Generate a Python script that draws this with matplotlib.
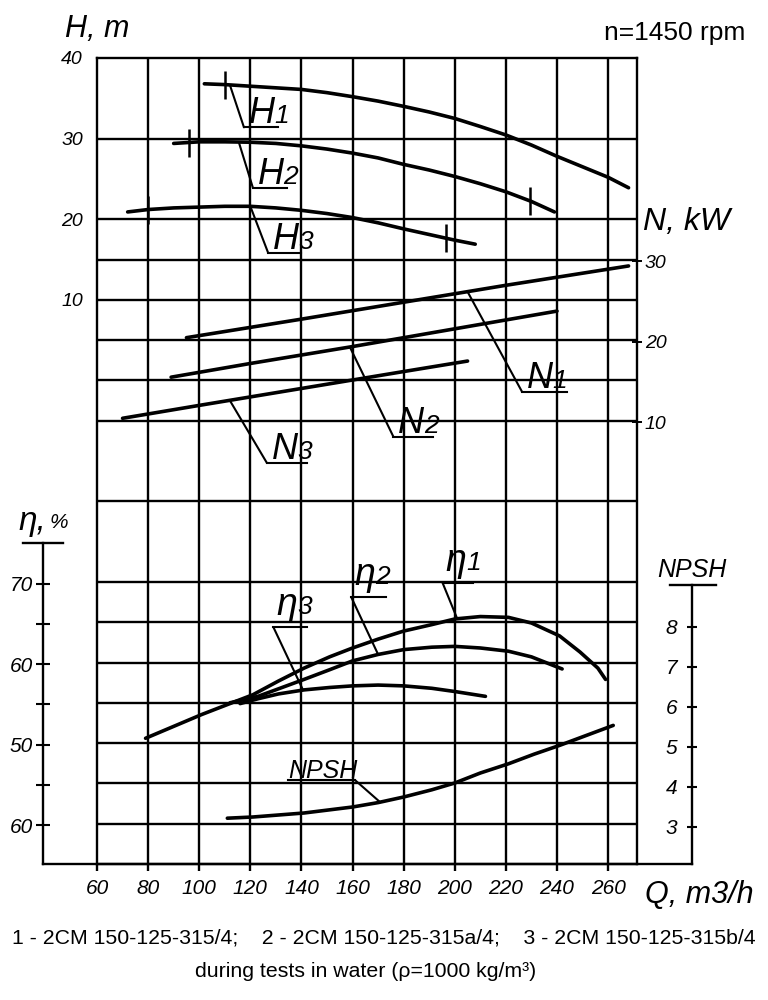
import numpy as np
import matplotlib.pyplot as plt
from matplotlib.transforms import blended_transform_factory as blend

plt.rcParams['font.family'] = ['Liberation Sans', 'DejaVu Sans']

# ---- values ----
# head H, m
q_h1 = [102, 110, 120, 130, 140, 150, 160, 170, 180, 190, 200, 210, 220, 230, 240, 250, 260, 268]
h1 = [36.8, 36.7, 36.5, 36.3, 36.1, 35.7, 35.2, 34.65, 34.0, 33.3, 32.5, 31.5, 30.45, 29.2,
      27.8, 26.5, 25.2, 23.9]
q_h2 = [90, 100, 110, 120, 130, 140, 150, 160, 170, 180, 190, 200, 210, 220, 230, 239]
h2 = [29.4, 29.6, 29.6, 29.55, 29.4, 29.1, 28.7, 28.2, 27.6, 26.8, 26.1, 25.3, 24.4, 23.4,
      22.2, 20.9]
q_h3 = [72, 80, 90, 100, 110, 120, 130, 140, 150, 160, 170, 180, 190, 200, 208]
h3 = [20.9, 21.2, 21.4, 21.5, 21.6, 21.6, 21.4, 21.1, 20.7, 20.2, 19.55, 18.8, 18.1, 17.4, 16.9]
# working-range marks on the head curves
mark_q = [110, 96, 229.6, 80, 196.5]
mark_h = [36.7, 29.5, 22.2, 21.2, 17.7]

# power N, kW
q_n1 = [95, 140, 180, 220, 268]
n1 = [20.5, 22.8, 24.9, 27.0, 29.4]
q_n2 = [89, 120, 160, 200, 240]
n2 = [15.6, 17.3, 19.4, 21.6, 23.8]
q_n3 = [70, 100, 140, 180, 205]
n3 = [10.5, 12.1, 14.2, 16.3, 17.6]

# efficiency, %
q_e1 = [79, 101, 112, 121, 131, 141, 151, 160, 170, 180, 191, 200, 210, 221, 230, 241, 249, 256, 259]
eta1 = [50.8, 53.75, 55.1, 56.2, 57.9, 59.5, 60.9, 62.0, 63.1, 64.1, 64.9, 65.6, 65.9, 65.8,
        65.1, 63.5, 61.5, 59.5, 58.1]
q_e2 = [112, 123, 141, 151, 160, 170, 180, 191, 200, 210, 221, 230, 242]
eta2 = [55.2, 56.0, 58.1, 59.3, 60.4, 61.2, 61.8, 62.1, 62.2, 62.0, 61.6, 60.9, 59.4]
q_e3 = [116, 123, 131, 141, 151, 160, 170, 180, 191, 200, 212]
eta3 = [55.1, 55.7, 56.3, 56.8, 57.1, 57.3, 57.4, 57.3, 57.0, 56.6, 56.0]

# NPSH, m
q_np = [111, 121, 141, 160, 170, 180, 191, 200, 210, 221, 231, 241, 262]
npsh = [3.22, 3.25, 3.35, 3.5, 3.61, 3.75, 3.93, 4.1, 4.35, 4.58, 4.82, 5.04, 5.54]

q_ticks = list(range(60, 261, 20))
h_ticks = [10, 20, 30, 40]
n_ticks = [10, 20, 30]
eta_ticks = [40, 50, 60, 70]
eta_labels = ['60', '50', '60', '70']   # as printed on the chart
npsh_ticks = [3, 4, 5, 6, 7, 8]

grid_q = list(range(80, 261, 20))
grid_h = [30, 20, 15, 10, 5, 0, -5, -15, -25, -30, -35, -40, -45, -50, -55]

LW = 2.6
GLW = 1.7

fig = plt.figure(figsize=(7.68, 10), dpi=100)
ax = fig.add_axes([97 / 768, 136 / 1000, 540 / 768, 806 / 1000])
ax.set_xlim(60, 271.3)
ax.set_ylim(-60, 40)

ax_n = ax.twinx()
ax_n.set_ylim(-60 + 15.2, 40 + 15.2)
ax_e = ax.twinx()
ax_e.set_ylim(-60 + 95.2, 40 + 95.2)
ax_p = ax.twinx()
ax_p.set_ylim(2.075, 22.225)

for a in (ax, ax_n, ax_e, ax_p):
    for s in a.spines.values():
        s.set_visible(False)

for s in ('left', 'top', 'right', 'bottom'):
    ax.spines[s].set_visible(True)
    ax.spines[s].set_linewidth(GLW)

# grid (hand drawn look: some rows missing)
ax.vlines(grid_q, -60, 40, color='k', lw=GLW)
ax.hlines(grid_h, 60, 271.3, color='k', lw=GLW)

# long baseline between the two side scales
ax.plot([-0.1, 1.102], [0, 0], transform=ax.transAxes, clip_on=False,
        color='k', lw=GLW)

# main axes ticks
ax.set_xticks(q_ticks, [str(v) for v in q_ticks], fontsize=15, fontstyle='italic')
ax.tick_params(axis='x', direction='out', length=5, width=GLW, pad=6)
ax.set_yticks(h_ticks, [str(v) for v in h_ticks], fontsize=14, fontstyle='italic')
ax.tick_params(axis='y', length=0, pad=10)

# N scale on right border
ax_n.yaxis.tick_right()
ax_n.set_yticks(n_ticks, [str(v) for v in n_ticks], fontsize=14, fontstyle='italic')
ax_n.tick_params(axis='y', direction='inout', length=7, width=1.4, pad=2)

# efficiency scale on the far left
ax_e.yaxis.tick_left()
ax_e.spines['left'].set_visible(True)
ax_e.spines['left'].set_position(('axes', -0.1))
ax_e.spines['left'].set_bounds(35.2, 75)
ax_e.spines['left'].set_linewidth(GLW)
ax_e.set_yticks(eta_ticks, eta_labels, fontsize=15, fontstyle='italic')
ax_e.set_yticks([45, 55, 65], minor=True)
ax_e.tick_params(axis='y', which='both', direction='inout', length=10, width=1.5, pad=2)

# NPSH scale on the far right
ax_p.yaxis.tick_left()
ax_p.spines['left'].set_visible(True)
ax_p.spines['left'].set_position(('axes', 1.102))
ax_p.spines['left'].set_bounds(2.075, 9.05)
ax_p.spines['left'].set_linewidth(GLW)
ax_p.set_yticks(npsh_ticks, [str(v) for v in npsh_ticks], fontsize=15, fontstyle='italic')
ax_p.tick_params(axis='y', direction='inout', length=7, width=1.5, pad=7)

# T bars on top of the side scales
ax.plot([(23 - 97) / 540, (63 - 97) / 540], [75, 75],
        transform=blend(ax.transAxes, ax_e.transData), clip_on=False, color='k', lw=GLW)
ax.plot([(670 - 97) / 540, (716 - 97) / 540], [9.05, 9.05],
        transform=blend(ax.transAxes, ax_p.transData), clip_on=False, color='k', lw=GLW)

# curves
kw = dict(color='k', lw=LW, solid_joinstyle='round', solid_capstyle='round')
ax.plot(q_h1, h1, **kw)
ax.plot(q_h2, h2, **kw)
ax.plot(q_h3, h3, **kw)
ax.plot(mark_q, mark_h, ls='none', marker='|', ms=20, mew=1.8, color='k')
ax_n.plot(q_n1, n1, **kw)
ax_n.plot(q_n2, n2, **kw)
ax_n.plot(q_n3, n3, **kw)
ax_e.plot(q_e1, eta1, **kw)
ax_e.plot(q_e2, eta2, **kw)
ax_e.plot(q_e3, eta3, **kw)
ax_p.plot(q_np, npsh, **kw)

# curve labels with leader and underline
# (letter, digit, axes of curve, point on curve, underline left in frame units, underline length)
tags = [
    ('H', '1', ax, (112, 36.65), (117.5, 31.4), 13.5),
    ('H', '2', ax, (115.5, 29.55), (121, 23.9), 13.5),
    ('H', '3', ax, (120, 21.6), (127, 15.8), 13),
    ('N', '1', ax_n, (205, 26.2), (226.3, -1.4), 17.7),
    ('N', '2', ax_n, (159, 19.3), (176, -7.0), 15.5),
    ('N', '3', ax_n, (112, 12.7), (126.5, -10.25), 15.5),
    ('η', '1', ax_e, (201, 65.6), (195.2, -25.1), 11.8),
    ('η', '2', ax_e, (170, 61.2), (159.5, -26.9), 13.5),
    ('η', '3', ax_e, (140.6, 56.8), (129, -30.6), 13.2),
]
for letter, digit, src, pt, ul, ln in tags:
    ax.annotate('', xy=pt, xycoords=src.transData, xytext=ul, textcoords='data',
                arrowprops=dict(arrowstyle='-', lw=1.5, color='k', shrinkA=0, shrinkB=0))
    ax.plot([ul[0], ul[0] + ln], [ul[1], ul[1]], color='k', lw=1.5)
    if letter == 'η':
        ax.annotate(letter, ul, xytext=(2, 8.5), textcoords='offset points',
                    fontsize=27, fontstyle='italic', va='baseline')
        ax.annotate(digit, ul, xytext=(17, 9.5), textcoords='offset points',
                    fontsize=19, fontstyle='italic', va='baseline')
    else:
        ax.annotate(letter, ul, xytext=(3.5, 3), textcoords='offset points',
                    fontsize=26, fontstyle='italic', va='baseline')
        ax.annotate(digit, ul, xytext=(22, 3), textcoords='offset points',
                    fontsize=19, fontstyle='italic', va='baseline')

# NPSH curve label
ax.plot([134.8, 161], [-49.6, -49.6], color='k', lw=1.5)
ax.annotate('', xy=(170.8, 3.62), xycoords=ax_p.transData, xytext=(161, -49.6),
            textcoords='data',
            arrowprops=dict(arrowstyle='-', lw=1.5, color='k', shrinkA=0, shrinkB=0))
ax.annotate('NPSH', (134.8, -49.6), xytext=(0, 1.5), textcoords='offset points',
            fontsize=18, fontstyle='italic', va='baseline')

# axis titles and notes
fig.text(65 / 768, 1 - 37 / 1000, 'H, m', fontsize=22, fontstyle='italic', va='baseline')
fig.text(745 / 768, 1 - 33 / 1000, 'n=1450 rpm', fontsize=19, ha='right', va='center')
fig.text(643 / 768, 1 - 230 / 1000, 'N, kW', fontsize=23, fontstyle='italic', va='baseline')
fig.text(18 / 768, 1 - 530 / 1000, 'η,', fontsize=24, fontstyle='italic', va='baseline')
fig.text(50 / 768, 1 - 528 / 1000, '%', fontsize=15, fontstyle='italic', va='baseline')
fig.text(692 / 768, 1 - 577 / 1000, 'NPSH', fontsize=18, fontstyle='italic',
         ha='center', va='baseline')
fig.text(645 / 768, 1 - 903 / 1000, 'Q, m3/h', fontsize=22, fontstyle='italic', va='baseline')
fig.text(0.5, 1 - 943 / 1000,
         '1 - 2CM 150-125-315/4;    2 - 2CM 150-125-315a/4;    3 - 2CM 150-125-315b/4',
         fontsize=15.3, ha='center', va='baseline')
fig.text(366 / 768, 1 - 977 / 1000, 'during tests in water (ρ=1000 kg/m³)',
         fontsize=15.3, ha='center', va='baseline')

fig.savefig('out.png', dpi=100, facecolor='white')
